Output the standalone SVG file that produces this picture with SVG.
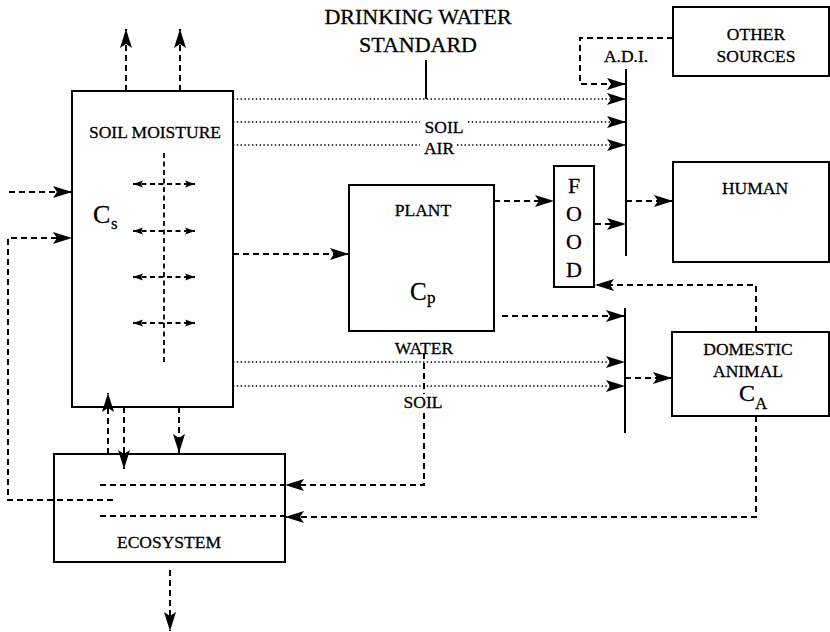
<svg xmlns="http://www.w3.org/2000/svg" width="830" height="632" viewBox="0 0 830 632">
<style>
.box{fill:none;stroke:#000;stroke-width:2}
.bar{fill:none;stroke:#000;stroke-width:2}
.dash{fill:none;stroke:#000;stroke-width:2;stroke-dasharray:6 4}
.dot{fill:none;stroke:#000;stroke-width:1.6;stroke-dasharray:1.4 2.4}
.sd{fill:none;stroke:#000;stroke-width:1.8;stroke-dasharray:5 3.5}
text{font-family:"Liberation Serif","Times New Roman",serif;fill:#000;stroke:#000;stroke-width:0.3;font-size:17.5px}
.mid{text-anchor:middle}
</style>
<defs>
<marker id="ah" markerUnits="userSpaceOnUse" markerWidth="22" markerHeight="14" refX="19" refY="7" orient="auto">
<path d="M0,1 L19,7 L0,13 L4,7 z" fill="#000"/>
</marker>
<marker id="sa" markerUnits="userSpaceOnUse" markerWidth="11" markerHeight="8" refX="10" refY="4" orient="auto-start-reverse">
<path d="M0,0.5 L10,4 L0,7.5 L2,4 z" fill="#000"/>
</marker>
</defs>

<g id="connectors">
<path class="dash" d="M126,91 V29" marker-end="url(#ah)"/>
<path class="dash" d="M180,91 V29" marker-end="url(#ah)"/>
<path class="dash" d="M9,192 H72" marker-end="url(#ah)"/>
<path class="dash" d="M113,500 H8 V238 H72" marker-end="url(#ah)"/>
<path class="dash" d="M233,254 H349" marker-end="url(#ah)"/>
<path class="dash" d="M494,201 H554" marker-end="url(#ah)"/>
<path class="dash" d="M595,224 H626" marker-end="url(#ah)"/>
<path class="dash" d="M673,38 H580 V84 H626" marker-end="url(#ah)"/>
<path class="dot" d="M233,99 H626" marker-end="url(#ah)"/>
<path class="dot" d="M233,122 H420"/>
<path class="dot" d="M468,122 H626" marker-end="url(#ah)"/>
<path class="dot" d="M233,145 H420"/>
<path class="dot" d="M457,145 H626" marker-end="url(#ah)"/>
<path class="bar" d="M426,60 V99"/>
<path class="dash" d="M626,201 H673" marker-end="url(#ah)"/>
<path class="dash" d="M502,316 H625" marker-end="url(#ah)"/>
<path class="dot" d="M233,362 H625" marker-end="url(#ah)"/>
<path class="dot" d="M233,386 H625" marker-end="url(#ah)"/>
<path class="dash" d="M625,378 H672" marker-end="url(#ah)"/>
<path class="dash" d="M756,332 V285 H595" marker-end="url(#ah)"/>
<path class="dash" d="M756,416 V517 H285" marker-end="url(#ah)"/>
<path class="dash" d="M424,353 V394"/>
<path class="dash" d="M424,413 V485 H285" marker-end="url(#ah)"/>
<path class="dash" d="M100,485 H285"/>
<path class="dash" d="M100,516 H285"/>
<path class="dash" d="M108,454 V393" marker-end="url(#ah)"/>
<path class="dash" d="M124,407 V469" marker-end="url(#ah)"/>
<path class="dash" d="M179,407 V453" marker-end="url(#ah)"/>
<path class="dash" d="M170,570 V631" marker-end="url(#ah)"/>
<path class="sd" d="M164,153 V362"/>
<path class="sd" d="M133,184 H195" marker-start="url(#sa)" marker-end="url(#sa)"/>
<path class="sd" d="M133,231 H195" marker-start="url(#sa)" marker-end="url(#sa)"/>
<path class="sd" d="M133,277 H195" marker-start="url(#sa)" marker-end="url(#sa)"/>
<path class="sd" d="M133,323 H195" marker-start="url(#sa)" marker-end="url(#sa)"/>
<text x="444" y="133" class="mid">SOIL</text>
<text x="439" y="154" class="mid">AIR</text>
<text x="424" y="354" class="mid">WATER</text>
<text x="423" y="408" class="mid">SOIL</text>
</g>

<g id="drinking-water-standard">
<text x="418" y="24" class="mid" style="font-size:22px">DRINKING WATER</text>
<text x="418" y="52" class="mid" style="font-size:22px">STANDARD</text>
</g>

<g id="soil-moisture">
<rect class="box" x="72" y="91" width="161" height="316"/>
<text x="155" y="138" class="mid">SOIL MOISTURE</text>
<text x="93" y="223" style="font-size:26px">C</text>
<text x="111" y="229" style="font-size:17px">s</text>
</g>

<g id="plant">
<rect class="box" x="349" y="185" width="145" height="146"/>
<text x="423" y="216" class="mid">PLANT</text>
<text x="410" y="300" style="font-size:25px">C</text>
<text x="427" y="303" style="font-size:17px">p</text>
</g>

<g id="food">
<rect class="box" x="554" y="166" width="40" height="121"/>
<text x="574" y="193" class="mid" style="font-size:22px">F</text>
<text x="574" y="221" class="mid" style="font-size:22px">O</text>
<text x="574" y="249" class="mid" style="font-size:22px">O</text>
<text x="574" y="277" class="mid" style="font-size:22px">D</text>
</g>

<g id="adi">
<path class="bar" d="M626,69 V256"/>
<text x="626" y="62" class="mid">A.D.I.</text>
</g>

<g id="junction">
<path class="bar" d="M625,308 V433"/>
</g>

<g id="other-sources">
<rect class="box" x="673" y="7" width="156" height="69"/>
<text x="756" y="40" class="mid">OTHER</text>
<text x="756" y="62" class="mid">SOURCES</text>
</g>

<g id="human">
<rect class="box" x="673" y="162" width="156" height="100"/>
<text x="755" y="194" class="mid">HUMAN</text>
</g>

<g id="domestic-animal">
<rect class="box" x="672" y="332" width="157" height="84"/>
<text x="748" y="355" class="mid">DOMESTIC</text>
<text x="748" y="377" class="mid">ANIMAL</text>
<text x="739" y="401" style="font-size:24px">C</text>
<text x="755" y="409" style="font-size:17px">A</text>
</g>

<g id="ecosystem">
<rect class="box" x="54" y="454" width="231" height="108"/>
<text x="169" y="548" class="mid">ECOSYSTEM</text>
</g>
</svg>
